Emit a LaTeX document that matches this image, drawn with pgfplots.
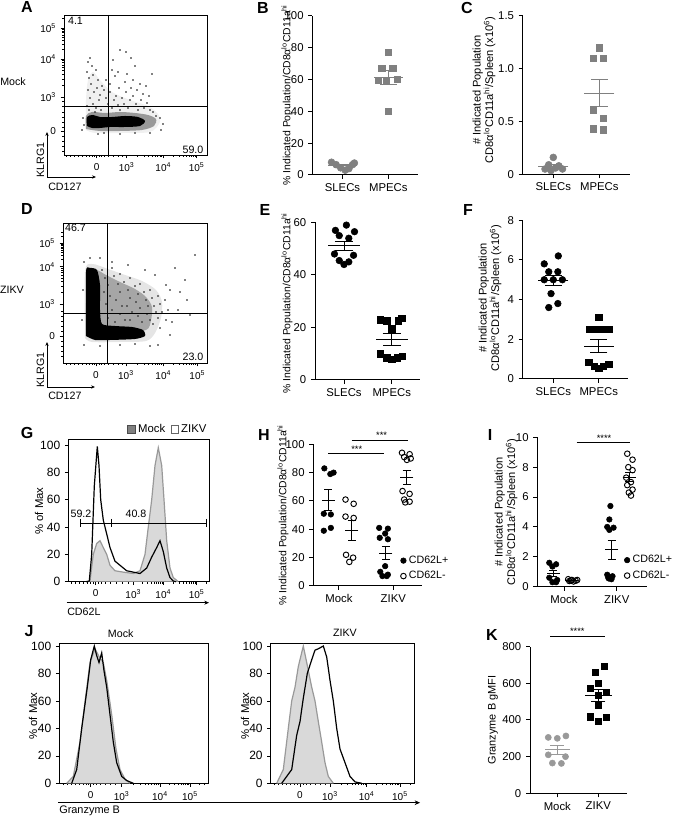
\documentclass[border=0pt]{standalone}
\usepackage{fontspec}
\setmainfont{Liberation Sans}
\usepackage{pgfplots}
\pgfplotsset{compat=1.18}
\usetikzlibrary{arrows.meta}
\newcommand{\fs}[1]{\fontsize{#1}{#1}\selectfont}
\pgfplotsset{
  base/.style={scale only axis, anchor=center, clip=false,
    /pgf/number format/assume math mode=true, tick label style={black}},
  dot/.style={base, axis x line*=bottom, axis y line*=left,
    tick align=outside, major tick length=3pt,
    tick style={black, line width=0.75pt},
    axis line style={black, line width=0.75pt},
    tick label style={font=\fs{8.5}},
    xtick={0,1}, ymin=0, enlargelimits=false},
  flow/.style={base, axis line style={black, line width=0.6pt},
    tick align=outside, xtick pos=bottom, ytick pos=left,
    major tick length=2.5pt, minor tick length=1.4pt,
    tick style={black, line width=0.45pt},
    tick label style={font=\fs{7.5}},
    xticklabels={0,10\textsuperscript{3},10\textsuperscript{4},10\textsuperscript{5}},
    yticklabels={0,10\textsuperscript{3},10\textsuperscript{4},10\textsuperscript{5}}},
  hist/.style={flow, ymin=0, ytick={0,20,40,60,80,100},
    yticklabels={0,20,40,60,80,100}, y tick label style={font=\fs{9}}, x tick label style={font=\fs{7.5}}},
  ms/.style n args={3}{only marks, mark=-, mark size=#1, color=#3, line width=0.75pt, forget plot,
    error bars/.cd, y dir=both, y explicit,
    error bar style={line width=0.75pt, color=#3},
    error mark options={rotate=90, mark size=#2, line width=0.75pt, color=#3}},
  sig/.style={black, line width=0.75pt, forget plot},
  mock/.style={fill=black!15, draw=black!40, line width=0.9pt},
  zikv/.style={black, line width=0.9pt},
  dots/.style={only marks, mark=*, mark size=0.42pt, black!80},
}
\begin{document}
\begin{tikzpicture}
\useasboundingbox (0,0) rectangle (506.25pt,612pt);

% ---------------- A ----------------
\begin{axis}[flow, at={(101.625pt,548.25pt)}, width=107.25pt, height=105pt,
  xmin=64, xmax=207, ymin=-155, ymax=-15,
  xtick={96.7,126.7,163.3,196.7},
  minor xtick={66,70,74,78,82,86,89,92,94,99,101,104,108,113,118,122,137.7,144.2,148.7,152.3,155.2,157.6,159.8,161.6,173.4,179.2,183.4,186.6,189.3,191.5,193.5,195.2},
  ytick={-131,-97,-59,-28},
  minor ytick={-151,-146,-141,-136,-127,-122,-117,-112,-106,-101,-85.6,-78.9,-74.1,-70.4,-67.4,-64.9,-62.7,-60.7,-49.7,-44.2,-40.3,-37.3,-34.9,-32.8,-31.0,-29.4,-18.7}]
\addplot[fill=black!6, draw=none, smooth, tension=0.5] coordinates {(86,-130) (86,-100) (88,-80) (93,-72) (100,-80) (112,-92) (130,-100) (148,-106) (158,-114) (160,-122) (150,-132) (120,-133) (95,-133) (86,-130)};
\addplot[fill=black!40, draw=none, smooth, tension=0.5] coordinates {(86,-129) (86,-116) (92,-112) (105,-113) (120,-112) (135,-113) (148,-115) (156,-119) (154,-126) (142,-130) (120,-131) (100,-131) (86,-129)};
\addplot[fill=black, draw=none, smooth, tension=0.5] coordinates {(87,-126) (87,-117) (93,-115) (100,-117) (112,-117) (125,-116) (138,-117) (145,-121) (140,-126) (125,-127) (110,-127) (100,-128) (92,-128) (87,-126)};
\addplot[dots] coordinates {(88,-62) (90,-58) (92,-66) (87,-72) (89,-78) (93,-75) (96,-70) (91,-84) (88,-90) (94,-92) (97,-88) (90,-98) (93,-104) (87,-106) (96,-108) (99,-100) (100,-95) (98,-80) (102,-86) (101,-110) (89,-110) (95,-112)
 (104,-90) (106,-98) (108,-104) (110,-92) (112,-108) (114,-100) (116,-96) (118,-105) (120,-110) (122,-98) (124,-104) (126,-92) (128,-108) (130,-100) (133,-96) (136,-104) (138,-110) (141,-100) (144,-108) (147,-103) (150,-110) (153,-112) (106,-80) (110,-84) (115,-76) (119,-88) (125,-82) (131,-88) (137,-90) (143,-94) (149,-96) (112,-70) (118,-72) (127,-74) (133,-80) (140,-84) (146,-86)
 (120,-50) (126,-52) (131,-58) (113,-60) (135,-66) (152,-74) (156,-116) (160,-118) (163,-124) (161,-130) (150,-133) (84,-125) (83,-118) (82,-130) (104,-133) (120,-134) (135,-133) (98,-134)};
\end{axis}

% ---------------- D ----------------
\begin{axis}[flow, at={(101.25pt,392.25pt)}, width=108pt, height=105pt,
  xmin=63, xmax=207, ymin=-363, ymax=-223,
  xtick={96,126,163.3,197.3},
  minor xtick={66,70,74,78,82,86,89,92,94,99,101,104,108,113,118,122,137.3,143.8,148.4,152,154.9,157.3,159.5,161.4,173.4,179.2,183.4,186.6,189.3,191.5,193.5,195.2},
  ytick={-336,-304,-266.7,-243.3},
  minor ytick={-356,-351,-346,-341,-331,-326,-321,-316,-311,-292.8,-286.2,-281.5,-277.9,-275,-272.5,-270.3,-268.4,-259.7,-255.5,-252.6,-250.3,-248.5,-246.9,-245.6,-244.4,-236.3,-232.3}]
\addplot[fill=black!10, draw=none, smooth, tension=0.5] coordinates {(85,-338) (85,-272) (92,-264) (108,-269) (125,-275) (142,-281) (156,-290) (162,-302) (161,-318) (155,-333) (146,-341) (120,-342) (92,-342) (85,-338)};
\addplot[fill=black!35, draw=none, smooth, tension=0.5] coordinates {(86,-330) (87,-275) (96,-270) (106,-275) (120,-282) (135,-289) (146,-297) (152,-307) (151,-320) (146,-330) (120,-332) (100,-332) (86,-330)};
\addplot[fill=black, draw=none, smooth, tension=0.4] coordinates {(86,-336) (86,-272) (90,-268) (97,-270) (100,-285) (100,-310) (102,-324) (115,-326) (132,-327) (143,-330) (145,-336) (135,-339) (110,-340) (95,-340) (86,-336)};
\addplot[dots] coordinates {(102,-270) (105,-278) (108,-285) (104,-292) (110,-296) (106,-304) (112,-310) (108,-318) (115,-322) (114,-276) (118,-284) (120,-292) (116,-300) (122,-306) (120,-314) (125,-320) (124,-282) (128,-290) (130,-298) (127,-306) (132,-312) (130,-320) (135,-286) (138,-294) (136,-302) (140,-308) (138,-316) (142,-322) (144,-292) (146,-300) (148,-306) (147,-314) (150,-320) (152,-298) (154,-306) (156,-312) (153,-324) (158,-318) (160,-304) (162,-312)
 (112,-268) (120,-274) (130,-278) (140,-284) (150,-290) (158,-296) (165,-300) (168,-310) (166,-320) (160,-328) (170,-290) (175,-268) (180,-292) (187,-300) (195,-255) (158,-345) (150,-346) (170,-335) (155,-275) (145,-270) (128,-265) (112,-262) (100,-258) (90,-258) (172,-322) (178,-310) (166,-285) (84,-262) (83,-290) (82,-320) (84,-345) (100,-346) (120,-345) (135,-344) (185,-280) (190,-315)};
\end{axis}

% ---------------- G ----------------
\begin{axis}[hist, at={(104.1pt,229.125pt)}, width=105.75pt, height=106.8pt,
  xmin=68.3, xmax=209.3, ymax=104.2,
  xtick={95.7,133.3,163.3,196.7},
  minor xtick={71,75,79,83,87,90,93,98,101,105,110,116,122,128,142.3,147.6,151.4,154.3,156.6,158.6,160.4,161.9,173.4,179.2,183.4,186.6,189.3,191.5,193.5,195.2,206.7},
  legend columns=2,
  legend style={at={(axis description cs:1.0,1.0)}, anchor=south east, draw=none, fill=none,
    inner sep=0pt, yshift=1.5pt, font=\fs{8.5}, /tikz/every even column/.append style={column sep=2pt}}]
\addplot[mock, legend image code/.code={\draw[fill=gray, draw=black!70, line width=0.4pt] (0pt,-2.8pt) rectangle (5.6pt,2.8pt);}] coordinates {(88,0) (90,0.5) (93.3,20) (96.7,28) (100,30) (103.3,25) (106.7,20) (110,12) (115,8) (123.3,7) (133.3,6) (140,8) (145,20) (148.3,40) (151.7,60) (155,85) (158.3,98) (161.7,85) (164,60) (166.7,30) (170,10) (173.3,3) (178.3,0)};
\addlegendentry{Mock}
\addplot[zikv, legend image code/.code={\draw[fill=white, draw=black!60, line width=0.4pt] (0pt,-2.8pt) rectangle (5.6pt,2.8pt);}] coordinates {(86,0) (89.3,0.5) (91.7,20) (94.3,70) (97.3,99) (99,85) (100.7,60) (103.3,45) (106.7,35) (110,25) (115,15) (120,12) (126.7,8) (133.3,7) (140,6) (146.7,10) (151.7,18) (156.7,25) (160,30) (163.3,22) (166.7,10) (170,3) (173.3,0.5) (176,0)};
\addlegendentry{ZIKV}
\end{axis}

% ---------------- J mock ----------------
\begin{axis}[hist, at={(100.35pt,77.14pt)}, width=111.75pt, height=105.2pt,
  xmin=59.3, xmax=208.3, ymax=102.2,
  xtick={90.7,121.7,160,190},
  minor xtick={63,67,71,75,79,83,86,88,93,96,100,105,110,115,133.2,140,144.8,148.5,151.5,154.1,156.3,158.2,169,174.3,178.1,181,183.3,185.4,187.1,188.6,199,204.3}]
\addplot[mock] coordinates {(66.7,0) (73.3,5) (80,30) (86,65) (90,88) (95,98) (99.3,92) (103.3,88) (106.7,75) (111.7,50) (116,25) (120,10) (125,3) (130,0)};
\addplot[zikv] coordinates {(71.7,0) (76.7,10) (81.7,40) (87.3,70) (90.7,90) (94.3,100) (96.7,93) (99,88) (101.7,95) (104,82) (106.7,70) (110,50) (113.3,30) (116.7,15) (121.7,5) (126.7,2) (133.3,0)};
\end{axis}

% ---------------- J ZIKV ----------------
\begin{axis}[hist, at={(256.875pt,77.14pt)}, width=107.7pt, height=105.2pt,
  xmin=270.7, xmax=414.3, ymax=102.2,
  xtick={300,330,366.7,400},
  minor xtick={274,278,282,286,290,294,297,303,306,310,315,320,325,341,347.5,352.1,355.7,358.6,361,363.2,365.1,376.7,382.6,386.7,390,392.6,394.8,396.8,398.5,410}]
\addplot[mock] coordinates {(276.7,0) (283.3,10) (288.3,40) (291.7,60) (295,70) (298.3,85) (303.3,100) (306.7,88) (311.7,70) (315,60) (318.3,45) (321.7,30) (325,15) (328.3,5) (333.3,0)};
\addplot[zikv] coordinates {(281.7,0) (291.7,10) (296.7,35) (300,45) (303.3,62) (307.3,80) (311.7,90) (315,97) (318.3,98) (323.3,100) (326.7,92) (330,75) (333.3,60) (336.7,40) (340,25) (345,15) (350,5) (355,1) (361.7,0)};
\end{axis}

% ---------------- B ----------------
\begin{axis}[dot, at={(273.98pt,540.49pt)}, width=79.5pt, height=119.48pt,
  xmin=-0.659, xmax=1.655, ymax=100, ytick={0,20,40,60,80,100}, xticklabels={SLECs,MPECs}]
\addplot[only marks, mark=*, mark size=2.6pt, gray] coordinates {(-0.24,8) (-0.14,6.5) (-0.04,4.5) (0.06,3) (0.14,4) (0.22,6.5) (0.26,7.5)};
\addplot[only marks, mark=square*, mark size=2.4pt, gray] coordinates {(1,77) (0.86,67) (1.1,67) (0.78,59.5) (0.96,59) (1.2,60) (1,40)};
\addplot[ms={10.65pt}{6.2pt}{gray}] coordinates {(0,5.7) +- (0,0.7) (1,61.1) +- (0,4.27)};
\end{axis}

% ---------------- C ----------------
\begin{axis}[dot, at={(432.26pt,540.64pt)}, width=80.48pt, height=118.73pt,
  xmin=-0.665, xmax=1.667, ymax=1.5, ytick={0,0.5,1,1.5}, yticklabels={0,0.5,1.0,1.5}, xticklabels={SLECs,MPECs}]
\addplot[only marks, mark=*, mark size=2.6pt, gray] coordinates {(-0.18,0.05) (-0.1,0.09) (0,0.16) (0.05,0.06) (0.12,0.08) (0.2,0.05) (-0.05,0.035)};
\addplot[only marks, mark=square*, mark size=2.4pt, gray] coordinates {(1,1.2) (0.87,1.1) (1.09,1.1) (0.87,0.61) (1.09,0.53) (0.87,0.43) (1.09,0.42)};
\addplot[ms={11.25pt}{6.2pt}{gray}] coordinates {(0,0.075) +- (0,0.016) (1,0.77) +- (0,0.131)};
\end{axis}

% ---------------- E ----------------
\begin{axis}[dot, at={(275.63pt,386.06pt)}, width=78.75pt, height=118.13pt,
  xmin=-0.608, xmax=1.593, ymax=60, ytick={0,20,40,60}, xticklabels={SLECs,MPECs}]
\addplot[only marks, mark=*, mark size=2.5pt, black] coordinates {(0.05,59) (-0.18,57) (0.22,56.5) (-0.1,55) (0.1,54) (-0.2,48) (0.2,47.5) (-0.1,45.5) (0.1,45) (0,44)};
\addplot[only marks, mark=square*, mark size=2.4pt, black] coordinates {(0.76,23) (0.9,22.5) (1.14,22.5) (1.21,23.5) (1,19.5) (0.76,10) (0.9,8.5) (1,8) (1.12,8.5) (1.22,9)};
\addplot[ms={11.9pt}{6.9pt}{black}] coordinates {(0,51.15) +- (0,1.8) (1,15.5) +- (0,2.26)};
\end{axis}

% ---------------- F ----------------
\begin{axis}[dot, at={(431.51pt,387.3pt)}, width=78.98pt, height=119.1pt,
  xmin=-0.674, xmax=1.645, ymax=8, ytick={0,2,4,6,8}, xticklabels={SLECs,MPECs}]
\addplot[only marks, mark=*, mark size=2.5pt, black] coordinates {(0.11,6.2) (-0.2,5.8) (-0.1,5.4) (0.1,5.4) (-0.2,5.0) (0,5.0) (0.2,5.0) (-0.05,4.3) (0.1,3.8) (-0.1,3.6)};
\addplot[only marks, mark=square*, mark size=2.4pt, black] coordinates {(1,3.1) (0.8,2.5) (0.93,2.5) (1.07,2.5) (1.22,2.5) (0.78,0.85) (0.9,0.65) (1,0.55) (1.1,0.65) (1.22,0.75)};
\addplot[ms={11.25pt}{6.5pt}{black}] coordinates {(0,4.95) +- (0,0.264) (1,1.655) +- (0,0.327)};
\end{axis}

% ---------------- H ----------------
\begin{axis}[dot, at={(275.63pt,225.64pt)}, width=81.3pt, height=106.28pt,
  xmin=-0.473, xmax=1.523, ymax=100, ytick={0,20,40,60,80,100}, xticklabels={Mock,ZIKV},
  legend style={at={(axis cs:1.13,12.45)}, anchor=west, draw=none, fill=none, inner sep=0pt,
    font=\fs{8}, row sep=0.5pt, cells={anchor=west}}]
\addplot[only marks, mark=*, mark size=2.1pt, black] coordinates {(-0.27,83) (-0.16,79) (-0.1,80) (-0.28,51) (-0.15,50.5) (-0.28,39) (-0.15,41) (0.74,41) (0.9,40.5) (0.85,37) (0.75,34) (0.9,33) (0.85,14) (0.76,10) (0.9,8) (0.8,7) (0.88,7)};
\addplot[only marks, mark=o, mark size=2.1pt, black, mark options={line width=0.7pt}] coordinates {(0.12,61) (0.27,58) (0.12,49) (0.27,48) (0.13,22) (0.26,20) (0.19,17) (1.16,94) (1.3,93) (1.2,91) (1.32,90) (1.25,89) (1.17,67) (1.3,65) (1.2,61) (1.3,59.5) (1.22,59)};
\legend{CD62L+,CD62L-}
\addplot[ms={5pt}{3pt}{black}] coordinates {(-0.197,60.5) +- (0,7.34) (0.234,39.29) +- (0,7.17) (0.862,23.15) +- (0,4.75) (1.246,76.85) +- (0,4.93)};
\addplot[sig] coordinates {(-0.197,93.6) (0.834,93.6)};
\addplot[sig] coordinates {(0.234,103) (1.265,103)};
\node[font=\fs{7}, anchor=south, inner sep=0.8pt] at (axis cs:0.326,93.6) {***};
\node[font=\fs{7}, anchor=south, inner sep=0.8pt] at (axis cs:0.786,103) {***};
\end{axis}

% ---------------- I ----------------
\begin{axis}[dot, at={(444pt,228pt)}, width=82.05pt, height=112.05pt,
  xmin=-0.507, xmax=1.569, ymax=10, ytick={0,2,4,6,8,10}, xticklabels={Mock,ZIKV},
  legend style={at={(axis cs:1.14,1.26)}, anchor=west, draw=none, fill=none, inner sep=0pt,
    font=\fs{8}, row sep=0.5pt, cells={anchor=west}}]
\addplot[only marks, mark=*, mark size=2.1pt, black] coordinates {(-0.28,1.6) (-0.15,1.5) (-0.22,1.35) (-0.28,0.6) (-0.13,0.45) (-0.22,0.3) (-0.15,0.3) (0.88,5.4) (0.86,4.5) (0.82,4.0) (0.94,3.95) (0.86,3.8) (0.82,0.8) (0.92,0.7) (0.84,0.6) (0.9,0.5) (0.85,0.55)};
\addplot[only marks, mark=o, mark size=2.1pt, black, mark options={line width=0.7pt}] coordinates {(0.08,0.5) (0.15,0.45) (0.22,0.4) (0.1,0.38) (0.18,0.35) (0.25,0.45) (0.13,0.42) (1.2,8.9) (1.3,8.5) (1.22,8.0) (1.3,7.8) (1.18,7.3) (1.27,7.0) (1.2,6.8) (1.3,6.5) (1.23,6.3) (1.27,6.1)};
\legend{CD62L+,CD62L-}
\addplot[ms={5pt}{3pt}{black}] coordinates {(-0.203,0.871) +- (0,0.221) (0.146,0.42) +- (0,0.02) (0.905,2.48) +- (0,0.632) (1.237,7.32) +- (0,0.30)};
\addplot[sig] coordinates {(0.241,9.64) (1.252,9.64)};
\node[font=\fs{7}, anchor=south, inner sep=0.8pt] at (axis cs:0.759,9.64) {****};
\end{axis}

% ---------------- K ----------------
\begin{axis}[dot, at={(433.76pt,72pt)}, width=72.53pt, height=109.95pt,
  xmin=-0.666, xmax=1.693, ymax=800, ytick={0,200,400,600,800}, xticklabels={Mock,ZIKV}]
\addplot[only marks, mark=*, mark size=2.3pt, black!40] coordinates {(-0.22,305) (0,300) (0.21,313) (-0.22,210) (0.2,200) (-0.12,165) (0.1,163)};
\addplot[only marks, mark=square*, mark size=2.3pt, black] coordinates {(1.14,691) (0.92,660) (1,600) (0.81,573) (1,536) (1.2,549) (1,482) (0.81,418) (1.2,415) (1,391)};
\addplot[ms={9.4pt}{5.25pt}{black!40}] coordinates {(0,236.6) +- (0,25.4)};
\addplot[ms={10pt}{5.25pt}{black}] coordinates {(1,531.5) +- (0,32.9)};
\addplot[sig] coordinates {(-0.178,858) (1.163,858)};
\node[font=\fs{7}, anchor=south, inner sep=0.8pt] at (axis cs:0.488,858) {****};
\end{axis}

% ---------------- annotations (pixel frame) ----------------
\begin{scope}[x=0.75pt, y=-0.75pt, shift={(0pt,612pt)}]
  \foreach \l/\x/\y in {A/27/7, B/263/8, C/467/8, D/27/209, E/265/210, F/468/210, G/27/433, H/264/435, I/490/435, J/29/631, K/492/635}
    \node[font=\bfseries\fs{12}] at (\x,\y) {\l};
  \draw[line width=0.5pt] (108.3,15) -- (108.3,155) (64,106.7) -- (207,106.7);
  \draw[line width=0.5pt] (107.3,223) -- (107.3,363) (63,313.3) -- (207,313.3);
  \node[font=\fs{8}] at (75.5,21) {4.1};
  \node[font=\fs{8}] at (193,150) {59.0};
  \node[font=\fs{8}] at (75.5,228) {46.7};
  \node[font=\fs{8}] at (193,357) {23.0};
  \node[font=\fs{8}] at (13,82) {Mock};
  \node[font=\fs{8}] at (12,290) {ZIKV};
  \draw[line width=0.5pt, -{Stealth[length=3pt,width=2.5pt]}] (47,177) -- (47,132);
  \draw[line width=0.5pt, -{Stealth[length=3pt,width=2.5pt]}] (47,177) -- (96,177);
  \node[font=\fs{8}, rotate=90] at (40.5,160) {KLRG1};
  \node[font=\fs{8}, anchor=west, inner sep=0pt] at (48,187) {CD127};
  \draw[line width=0.5pt, -{Stealth[length=3pt,width=2.5pt]}] (47,387) -- (47,342);
  \draw[line width=0.5pt, -{Stealth[length=3pt,width=2.5pt]}] (47,387) -- (95,387);
  \node[font=\fs{8}, rotate=90] at (40.5,370) {KLRG1};
  \node[font=\fs{8}, anchor=west, inner sep=0pt] at (48,396) {CD127};
  \draw[line width=0.6pt] (80.7,523) -- (206,523);
  \draw[line width=0.6pt] (80.7,519) -- (80.7,527) (111.7,519) -- (111.7,527) (206,519) -- (206,527);
  \node[font=\fs{8}] at (81,514) {59.2};
  \node[font=\fs{8}] at (136,514) {40.8};
  \node[font=\fs{8.5}, rotate=90] at (39,511) {\% of Max};
  \draw[line width=0.5pt, -{Stealth[length=3.5pt,width=3pt]}] (66.7,602.7) -- (209,602.7);
  \node[font=\fs{8}, anchor=west, inner sep=0pt] at (67,611.7) {CD62L};
  \node[font=\fs{8}] at (120.7,633.3) {Mock};
  \node[font=\fs{8}] at (345,633.3) {ZIKV};
  \node[font=\fs{8.5}, rotate=90] at (33,716) {\% of Max};
  \node[font=\fs{8.5}, rotate=90] at (245,716) {\% of Max};
  \draw[line width=0.5pt, -{Stealth[length=4pt,width=3.5pt]}] (58,802.7) -- (420,802.7);
  \node[font=\fs{8.2}, anchor=west, inner sep=0pt] at (59,810.5) {Granzyme B};
  \node[font=\fs{7.8}, rotate=90] at (287,95) {\% Indicated Population/CD8α\textsuperscript{lo}CD11a\textsuperscript{hi}};
  \node[font=\fs{7.8}, rotate=90] at (287,303) {\% Indicated Population/CD8α\textsuperscript{lo}CD11a\textsuperscript{hi}};
  \node[font=\fs{7.8}, rotate=90] at (283,515) {\% Indicated Population/CD8α\textsuperscript{lo}CD11a\textsuperscript{hi}};
  \node[font=\fontsize{8.3}{9.3}\selectfont, rotate=90, align=center] at (484,90) {\# Indicated Population\\CD8α\textsuperscript{lo}CD11a\textsuperscript{hi}/Spleen (x10\textsuperscript{6})};
  \node[font=\fontsize{8.3}{9.3}\selectfont, rotate=90, align=center] at (490,298) {\# Indicated Population\\CD8α\textsuperscript{lo}CD11a\textsuperscript{hi}/Spleen (x10\textsuperscript{6})};
  \node[font=\fontsize{8.3}{9.3}\selectfont, rotate=90, align=center] at (506,512) {\# Indicated Population\\CD8α\textsuperscript{lo}CD11a\textsuperscript{hi}/Spleen (x10\textsuperscript{6})};
  \node[font=\fs{8.2}, rotate=90] at (493,720) {Granzyme B gMFI};
\end{scope}
\end{tikzpicture}
\end{document}
